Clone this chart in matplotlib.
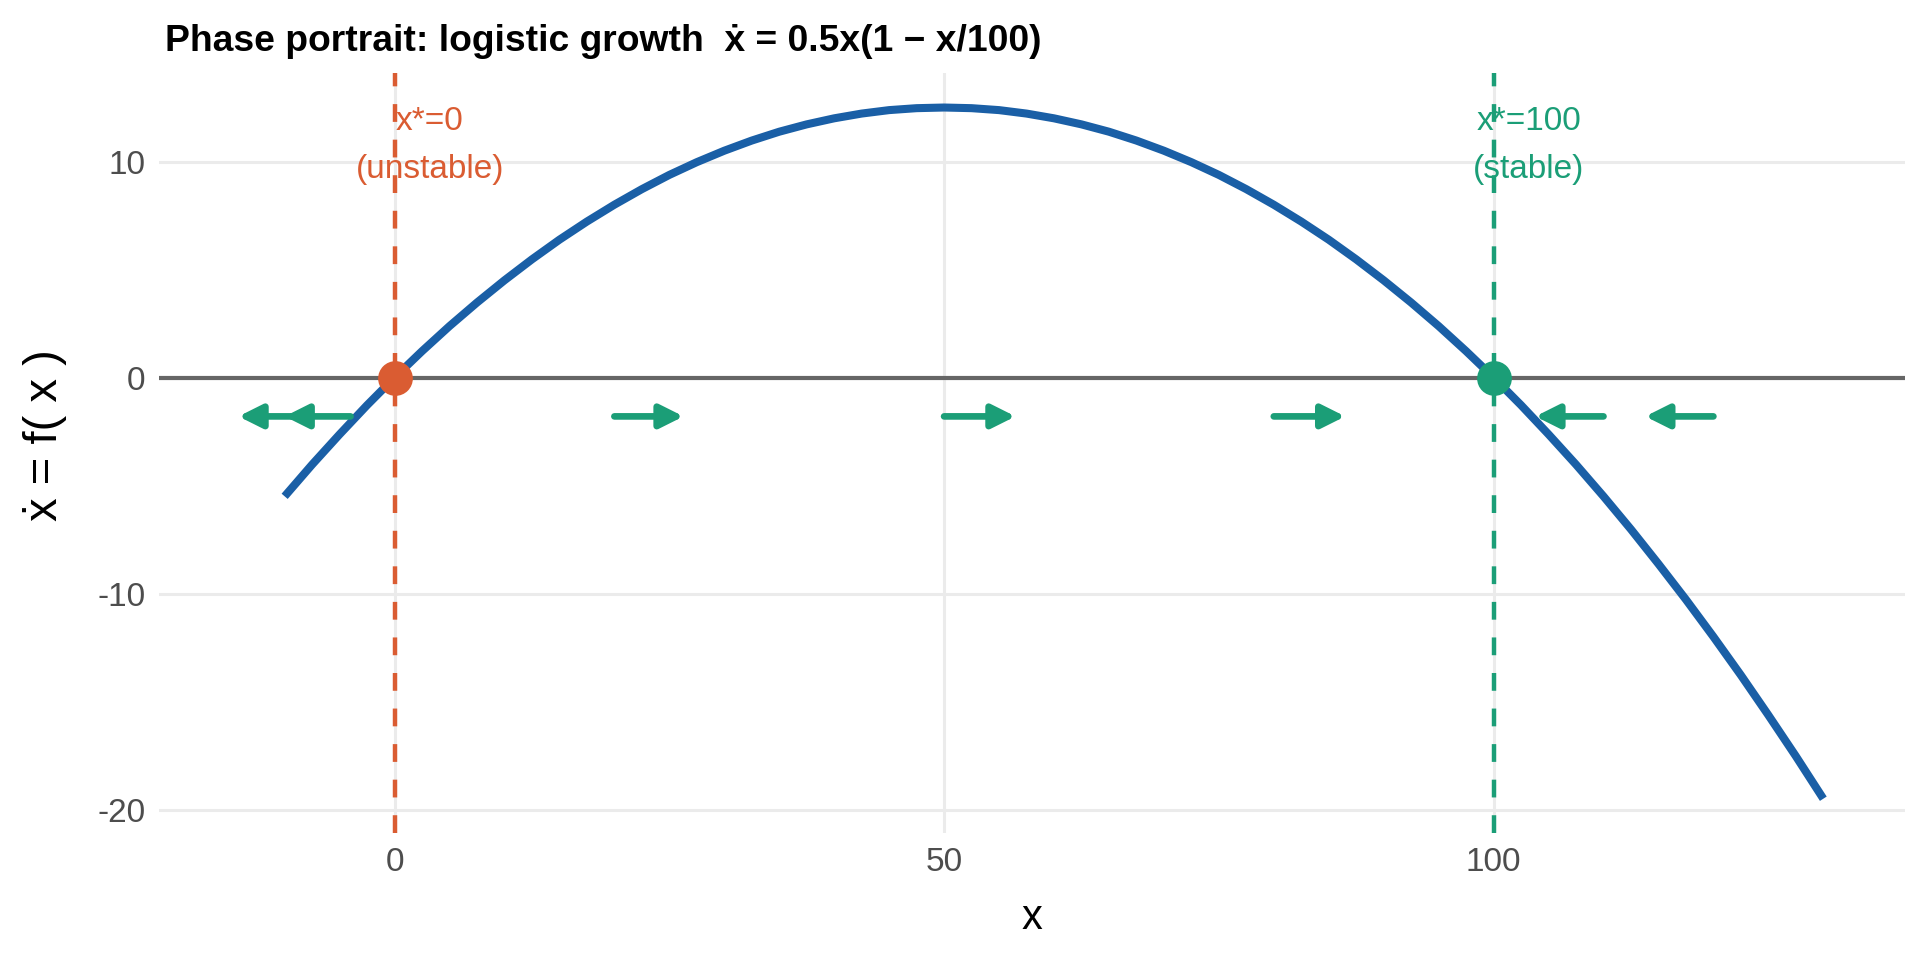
import numpy as np
import matplotlib
matplotlib.use('Agg')
import matplotlib.pyplot as plt

plt.rcParams['font.family'] = ['Liberation Sans', 'DejaVu Sans']
plt.rcParams['axes.unicode_minus'] = False

x_curve = [-10, -7.5, -5, -2.5, 0, 2.5, 5, 7.5, 10, 12.5, 15, 17.5, 20, 22.5,
           25, 27.5, 30, 32.5, 35, 37.5, 40, 42.5, 45, 47.5, 50, 52.5, 55,
           57.5, 60, 62.5, 65, 67.5, 70, 72.5, 75, 77.5, 80, 82.5, 85, 87.5,
           90, 92.5, 95, 97.5, 100, 102.5, 105, 107.5, 110, 112.5, 115, 117.5,
           120, 122.5, 125, 127.5, 130]
y_curve = [-5.5, -4.03, -2.63, -1.28, 0, 1.22, 2.38, 3.47, 4.5, 5.47, 6.38,
           7.22, 8, 8.72, 9.38, 9.97, 10.5, 10.97, 11.38, 11.72, 12, 12.22,
           12.38, 12.47, 12.5, 12.47, 12.38, 12.22, 12, 11.72, 11.38, 10.97,
           10.5, 9.97, 9.38, 8.72, 8, 7.22, 6.38, 5.47, 4.5, 3.47, 2.38, 1.22,
           0, -1.28, -2.63, -4.03, -5.5, -7.03, -8.63, -10.28, -12, -13.78,
           -15.63, -17.53, -19.5]

# Pfeile auf der x-Achse (Start, Ende)
arrow_start = [-4, -8, 20, 50, 80, 110, 120]
arrow_end = [-10, -14.2, 26.3, 56.5, 86.5, 103.8, 113.8]
arrow_y = -1.8

# Fixpunkte
fix_x = [0, 100]
fix_labels = ['x*=0\n(unstable)', 'x*=100\n(stable)']
fix_colors = ['#DA5C32', '#1B9E77']
arrow_color = '#1B9E77'

fig = plt.figure(figsize=(9.6, 4.8), dpi=200)
ax = fig.add_axes([0.083, 0.132, 0.909, 0.792])

ax.axhline(0, color='#666666', lw=1.5, zorder=2)
for xf, c in zip(fix_x, fix_colors):
    ax.axvline(xf, color=c, lw=1.6, dashes=(4, 4), zorder=3)

ax.plot(x_curve, y_curve, color='#1A5FA6', lw=2.9, zorder=4,
        solid_capstyle='butt', solid_joinstyle='round')

for x0, x1 in zip(arrow_start, arrow_end):
    ax.annotate('', xy=(x1, arrow_y), xytext=(x0, arrow_y),
                arrowprops=dict(arrowstyle='-|>,head_length=0.7,head_width=0.35',
                                color=arrow_color, lw=2.4, shrinkA=0, shrinkB=0,
                                mutation_scale=10),
                zorder=5)

for xf, lab, c in zip(fix_x, fix_labels, fix_colors):
    ax.plot(xf, 0, 'o', color=c, ms=11.5, zorder=6)
    ax.text(xf + 3.2, 10.73, lab, color=c, ha='center', va='center', fontsize=12,
            linespacing=1.7, zorder=3)

ax.set_xlim(-21.4, 137.4)
ax.set_ylim(-21.1, 14.1)
ax.set_xticks([0, 50, 100])
ax.set_yticks([-20, -10, 0, 10])
ax.grid(True, color='#EBEBEB', lw=1.1)
ax.set_axisbelow(True)
for s in ax.spines.values():
    s.set_visible(False)
ax.tick_params(length=0, labelsize=12, labelcolor='#4D4D4D', pad=5)

ax.set_xlabel('x', fontsize=15, labelpad=7)
ax.set_ylabel('ẋ = f( x )', fontsize=17)
ax.yaxis.set_label_coords(-0.053, 0.524)
fig.text(0.086, 0.947, 'Phase portrait: logistic growth  ẋ = 0.5x(1 − x/100)',
         fontsize=13.4, fontweight='bold', ha='left', va='baseline')

plt.savefig('out.png', dpi=200)
plt.close()
